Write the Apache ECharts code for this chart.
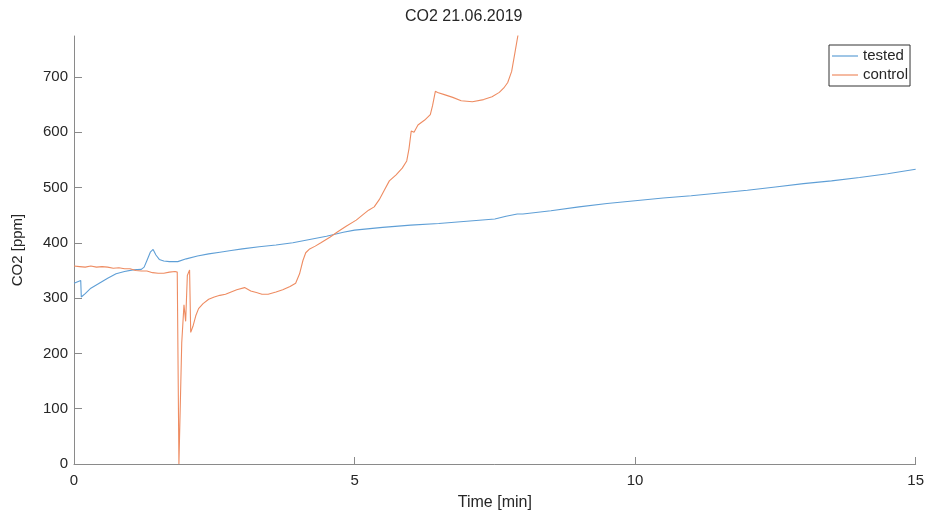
<!DOCTYPE html>
<html>
<head>
<meta charset="utf-8">
<script src="https://cdn.jsdelivr.net/npm/echarts@6/dist/echarts.min.js"></script>
<style>html,body{margin:0;padding:0;background:#fff;}#c{width:927px;height:516px;}</style>
</head>
<body>
<div id="c"></div>
<script>
const tTested = [0, 0.12, 0.13, 0.2, 0.3, 0.45, 0.6, 0.75, 0.9, 1.05, 1.2, 1.25, 1.3, 1.36, 1.41, 1.46, 1.52, 1.6, 1.7, 1.85, 2.0, 2.2, 2.4, 2.6, 2.8, 3.0, 3.3, 3.6, 3.9, 4.2, 4.5, 4.8, 5.0, 5.5, 6.0, 6.5, 7.0, 7.5, 7.7, 7.9, 8.0, 8.5, 9.0, 9.5, 10.0, 10.5, 11.0, 11.5, 12.0, 12.5, 13.0, 13.5, 14.0, 14.5, 15.0];
const vTested = [327, 332, 302, 308, 318, 327, 336, 344, 348, 351, 352, 356, 368, 383, 388, 378, 370, 367, 366, 366, 371, 376, 380, 383, 386, 389, 393, 396, 400, 406, 412, 419, 423, 428, 432, 435, 439, 443, 448, 452, 452, 458, 465, 471, 476, 481, 485, 490, 495, 501, 507, 512, 518, 525, 533];

const tControl = [0, 0.1, 0.2, 0.3, 0.4, 0.5, 0.6, 0.7, 0.8, 0.9, 1.0, 1.1, 1.2, 1.3, 1.4, 1.5, 1.6, 1.7, 1.8, 1.84, 1.87, 1.92, 1.96, 1.99, 2.02, 2.06, 2.08, 2.12, 2.17, 2.22, 2.3, 2.4, 2.5, 2.6, 2.7, 2.8, 2.9, 3.04, 3.15, 3.25, 3.35, 3.46, 3.6, 3.72, 3.85, 3.95, 4.02, 4.08, 4.13, 4.2, 4.3, 4.4, 4.56, 4.7, 4.85, 5.03, 5.15, 5.25, 5.35, 5.44, 5.53, 5.62, 5.74, 5.85, 5.93, 5.97, 6.01, 6.06, 6.13, 6.25, 6.35, 6.39, 6.44, 6.48, 6.6, 6.75, 6.9, 7.1, 7.3, 7.45, 7.58, 7.66, 7.73, 7.8, 7.86, 7.92];
const vControl = [358, 357, 356, 358, 356, 357, 356, 354, 355, 353, 353, 350, 349, 349, 346, 345, 345, 347, 348, 347, 0, 219, 288, 258, 341, 351, 238, 249, 268, 281, 290, 298, 302, 305, 307, 311, 315, 319, 313, 310, 307, 307, 311, 315, 321, 327, 344, 368, 382, 389, 394, 400, 410, 420, 430, 441, 451, 459, 465, 478, 495, 512, 523, 535, 548, 570, 602, 600, 613, 622, 632, 648, 674, 672, 668, 663, 657, 655, 659, 664, 672, 680, 690, 710, 745, 780];

const xTicks = [0, 5, 10, 15];
const yTicks = [0, 100, 200, 300, 400, 500, 600, 700];
const seriesNames = ['tested', 'control'];
const titleText = 'CO2 21.06.2019';

const FONT = 'Liberation Sans, Arial, Helvetica, sans-serif';
const TXT = '#262626';
const AX = '#8a8a8a';

const chart = echarts.init(document.getElementById('c'), null, {renderer: 'canvas'});
chart.setOption({
  animation: false,
  backgroundColor: '#fff',
  title: {
    text: titleText, left: 405, top: 9, padding: 0,
    textStyle: {fontFamily: FONT, fontSize: 16, fontWeight: 'normal', color: TXT}
  },
  legend: {
    orient: 'vertical', left: 829, top: 45,
    icon: 'rect', itemWidth: 26, itemHeight: 1.2, itemGap: 3,
    padding: [3, 2, 3, 3],
    borderColor: '#333', borderWidth: 1, backgroundColor: '#fff',
    textStyle: {fontFamily: FONT, fontSize: 15, color: TXT, lineHeight: 16},
    data: seriesNames
  },
  grid: {left: 74, right: 10, top: 36, bottom: 48, containLabel: false},
  xAxis: {
    type: 'value', min: 0, max: 15, interval: 5,
    name: 'Time [min]', nameLocation: 'middle', nameGap: 31,
    nameTextStyle: {fontFamily: FONT, fontSize: 16, color: TXT},
    axisLine: {show: true, lineStyle: {color: AX, width: 1}},
    axisTick: {show: true, inside: true, length: 7, lineStyle: {color: AX}, customValues: xTicks},
    axisLabel: {fontFamily: FONT, fontSize: 15, color: TXT, margin: 9, customValues: xTicks},
    splitLine: {show: false}
  },
  yAxis: {
    type: 'value', min: 0, max: 774, interval: 100,
    name: 'CO2 [ppm]', nameLocation: 'middle', nameGap: 49, nameRotate: 90,
    nameTextStyle: {fontFamily: FONT, fontSize: 15, color: TXT},
    axisLine: {show: true, lineStyle: {color: AX, width: 1}},
    axisTick: {show: true, inside: true, length: 8, lineStyle: {color: AX}, customValues: yTicks},
    axisLabel: {fontFamily: FONT, fontSize: 15, color: TXT, margin: 6, customValues: yTicks},
    splitLine: {show: false}
  },
  series: [
    {
      name: seriesNames[0], type: 'line', showSymbol: false, symbol: 'none', clip: true,
      color: '#5f9fd6', lineStyle: {width: 1.1, color: '#5f9fd6'},
      data: tTested.map((t, i) => [t, vTested[i]])
    },
    {
      name: seriesNames[1], type: 'line', showSymbol: false, symbol: 'none', clip: true,
      color: '#ee8c62', lineStyle: {width: 1.1, color: '#ee8c62'},
      data: tControl.map((t, i) => [t, vControl[i]])
    }
  ]
});
</script>
</body>
</html>
